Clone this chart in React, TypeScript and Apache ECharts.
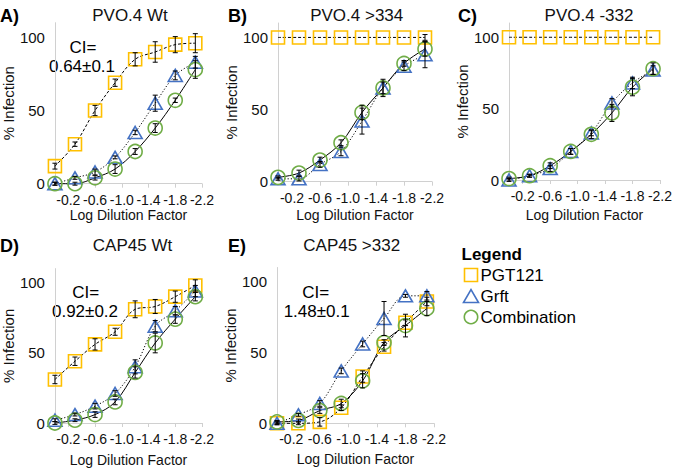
import React, { useEffect, useRef } from "react";
import * as echarts from "echarts";

// ---- data ----
const logDilution = [0, -0.3, -0.6, -0.9, -1.2, -1.5, -1.8, -2.1];
const xTickValues = [-0.2, -0.6, -1.0, -1.4, -1.8, -2.2];
const yTickValues = [0, 50, 100];

const panelTitles = ["PVO.4 Wt", "PVO.4 >334", "PVO.4 -332", "CAP45 Wt", "CAP45 >332"];
const panelLetters = ["A)", "B)", "C)", "D)", "E)"];
const seriesNames = ["PGT121", "Grft", "Combination"];

// Panel A: PVO.4 Wt
const aPGT121 = [12, 27, 50, 69, 85, 90, 95, 96];
const aPGT121Err = [2, 1.5, 3.5, 2.5, 4.5, 7, 5.5, 6.5];
const aGrft = [0, 4, 8, 18, 35, 55, 74, 83];
const aGrftErr = [1, 1, 2, 1, 1.5, 5.5, 3, 4];
const aComb = [0, 0, 4, 10, 22, 38, 57, 78];
const aCombErr = [1, 1, 1.5, 3, 2, 3, 1.5, 6];

// Panel B: PVO.4 >334
const bPGT121 = [100, 100, 100, 100, 100, 100, 100, 100];
const bPGT121Err = [0, 0, 0, 0, 0, 0, 0, 2];
const bGrft = [2, 2, 12, 21, 42, 65, 80, 88];
const bGrftErr = [1, 1.5, 2, 3, 9, 6, 3, 9];
const bComb = [3, 6, 15, 27, 48, 65, 82, 92];
const bCombErr = [1, 2, 2, 2, 5, 4, 2, 5];

// Panel C: PVO.4 -332
const cPGT121 = [100, 100, 100, 100, 100, 100, 100, 100];
const cPGT121Err = [0, 0, 0, 0, 0, 0, 0, 0];
const cGrft = [0, 3, 8, 20, 33, 54, 68, 77];
const cGrftErr = [1, 1, 2, 2, 2, 3, 4, 3];
const cComb = [1, 3, 10, 20, 32, 47, 65, 78];
const cCombErr = [1, 1, 2, 2, 3, 6, 6, 4];

// Panel D: CAP45 Wt
const dPGT121 = [31, 44, 56, 65, 81, 83, 90, 98];
const dPGT121Err = [3, 3, 4, 2.5, 6, 5, 4, 4];
const dGrft = [2, 6, 12, 21, 40, 69, 80, 94];
const dGrftErr = [1, 1, 2, 2, 5, 4, 3, 4];
const dComb = [0, 2, 6, 15, 36, 57, 74, 90];
const dCombErr = [1, 1, 2, 2, 4, 7, 3, 3];

// Panel E: CAP45 >332
const ePGT121 = [0, 0, 1, 11, 33, 54, 71, 86];
const ePGT121Err = [1, 1, 3, 2, 4, 3, 2, 3];
const eGrft = [0, 6, 14, 37, 56, 74, 90, 90];
const eGrftErr = [1, 1, 2, 2, 2, 12, 1, 3];
const eComb = [1, 2, 9, 14, 30, 57, 69, 81];
const eCombErr = [1, 1, 2, 3, 5, 2, 8, 5];

const ciLabels: (string | null)[] = ["0.64±0.1", null, null, "0.92±0.2", "1.48±0.1"];

const panelValues = [
  [aPGT121, aGrft, aComb],
  [bPGT121, bGrft, bComb],
  [cPGT121, cGrft, cComb],
  [dPGT121, dGrft, dComb],
  [ePGT121, eGrft, eComb],
];
const panelErrors = [
  [aPGT121Err, aGrftErr, aCombErr],
  [bPGT121Err, bGrftErr, bCombErr],
  [cPGT121Err, cGrftErr, cCombErr],
  [dPGT121Err, dGrftErr, dCombErr],
  [ePGT121Err, eGrftErr, eCombErr],
];

// ---- layout / style ----
const FONT = "'Liberation Sans', Arial, Helvetica, sans-serif";
const TXT = "#111";
const AXIS_GRAY = "#d0d0d0";
const colors = ["#FFC000", "#4472C4", "#70AD47"];
const symbols = ["rect", "triangle", "circle"];
const symbolSizes: any[] = [13, [14, 12], 14];
const lineTypes: any[] = [[3, 2], [1.2, 2], "solid"];

const grids = [
  { left: 42, top: 22.7, width: 160, height: 161 },
  { left: 278, top: 23, width: 154, height: 158.7 },
  { left: 509, top: 23, width: 154, height: 157 },
  { left: 49, top: 268.6, width: 153, height: 154.7 },
  { left: 277, top: 267.5, width: 157, height: 155.8 },
];
const yNameGaps = [27, 33, 34, 35, 33];
const xNameGaps = [24, 26, 28, 30, 29];
const titlePos = [
  [130, 15.8], [356.7, 15.8], [589, 15.8], [132.5, 245.8], [351.7, 245.8],
];
const letterPos = [
  [0, 15.8], [228, 15.8], [458, 15.8], [0, 245.8], [228, 245.8],
];
const ciPos = [
  [83, 47.5, 82, 66.7], null, null, [85.8, 292.5, 85, 311.7], [315.8, 292.5, 316.7, 311.7],
];

function errorRender(params: any, api: any) {
  const x = api.value(0);
  const lo = api.value(1);
  const hi = api.value(2);
  if (hi - lo <= 0) return { type: "group", children: [] };
  const p1 = api.coord([x, hi]);
  const p2 = api.coord([x, lo]);
  const w = 2.5;
  const st = { stroke: "#000", lineWidth: 1 };
  return {
    type: "group",
    children: [
      { type: "line", shape: { x1: p1[0], y1: p1[1], x2: p2[0], y2: p2[1] }, style: st },
      { type: "line", shape: { x1: p1[0] - w, y1: p1[1], x2: p1[0] + w, y2: p1[1] }, style: st },
      { type: "line", shape: { x1: p2[0] - w, y1: p2[1], x2: p2[0] + w, y2: p2[1] }, style: st },
    ],
  };
}

function buildOption() {
  const grid: any[] = [];
  const xAxis: any[] = [];
  const yAxis: any[] = [];
  const series: any[] = [];
  const graphic: any[] = [];

  grids.forEach((g, i) => {
    grid.push({ ...g, containLabel: false });
    xAxis.push({
      type: "value",
      gridIndex: i,
      min: -2.2,
      max: 0,
      inverse: true,
      name: "Log Dilution Factor",
      nameLocation: "middle",
      nameGap: xNameGaps[i],
      nameTextStyle: { fontFamily: FONT, fontSize: 14, color: TXT },
      axisLine: { show: true, onZero: false, lineStyle: { color: AXIS_GRAY, width: 1 } },
      axisTick: { show: true, length: 4, customValues: xTickValues, lineStyle: { color: AXIS_GRAY } },
      axisLabel: {
        customValues: xTickValues,
        formatter: (v: number) => v.toFixed(1),
        fontFamily: FONT,
        fontSize: 14,
        color: TXT,
        margin: 9,
      },
      splitLine: { show: false },
    });
    yAxis.push({
      type: "value",
      gridIndex: i,
      min: 0,
      max: 110,
      name: "% Infection",
      nameLocation: "middle",
      nameGap: yNameGaps[i],
      nameRotate: 90,
      nameTextStyle: { fontFamily: FONT, fontSize: 15, color: TXT },
      axisLine: { show: true, lineStyle: { color: AXIS_GRAY, width: 1 } },
      axisTick: { show: false },
      axisLabel: {
        customValues: yTickValues,
        fontFamily: FONT,
        fontSize: 15,
        color: TXT,
        margin: 10,
      },
      splitLine: { show: false },
    });

    panelValues[i].forEach((vals, s) => {
      series.push({
        type: "line",
        name: seriesNames[s],
        xAxisIndex: i,
        yAxisIndex: i,
        data: logDilution.map((x, j) => [x, vals[j]]),
        smooth: 0.35,
        symbol: symbols[s],
        symbolSize: symbolSizes[s],
        showSymbol: true,
        clip: false,
        z: 3,
        itemStyle: { color: "rgba(0,0,0,0)", borderColor: colors[s], borderWidth: 1.6 },
        lineStyle: { color: "#000", width: 1, type: lineTypes[s] },
        emphasis: { disabled: true },
      });
      const errs = panelErrors[i][s];
      series.push({
        type: "custom",
        name: seriesNames[s] + " error",
        xAxisIndex: i,
        yAxisIndex: i,
        z: 4,
        renderItem: errorRender,
        encode: { x: 0, y: [1, 2] },
        data: logDilution.map((x, j) => [x, vals[j] - errs[j], vals[j] + errs[j]]),
      });
    });

    graphic.push({
      type: "text",
      x: titlePos[i][0],
      y: titlePos[i][1],
      style: {
        text: panelTitles[i],
        font: `17px ${FONT}`,
        fill: TXT,
        textAlign: "center",
        textVerticalAlign: "middle",
      },
    });
    graphic.push({
      type: "text",
      x: letterPos[i][0],
      y: letterPos[i][1],
      style: {
        text: panelLetters[i],
        font: `bold 18px ${FONT}`,
        fill: "#000",
        textAlign: "left",
        textVerticalAlign: "middle",
      },
    });
    const ci = ciLabels[i];
    const cp = ciPos[i];
    if (ci && cp) {
      graphic.push({
        type: "text",
        x: cp[0],
        y: cp[1],
        style: { text: "CI=", font: `17px ${FONT}`, fill: "#000", textAlign: "center", textVerticalAlign: "middle" },
      });
      graphic.push({
        type: "text",
        x: cp[2],
        y: cp[3],
        style: { text: ci, font: `17px ${FONT}`, fill: "#000", textAlign: "center", textVerticalAlign: "middle" },
      });
    }
  });

  // legend block
  graphic.push({
    type: "text",
    x: 461.5,
    y: 254,
    style: { text: "Legend", font: `bold 17px ${FONT}`, fill: "#000", textAlign: "left", textVerticalAlign: "middle" },
  });
  const legY = [275, 296, 317];
  graphic.push({
    type: "rect",
    shape: { x: 464.5, y: legY[0] - 6.5, width: 13, height: 13 },
    style: { fill: "none", stroke: colors[0], lineWidth: 1.6 },
  });
  graphic.push({
    type: "polygon",
    shape: { points: [[463.5, legY[1] + 6.5], [478.5, legY[1] + 6.5], [471, legY[1] - 6.5]] },
    style: { fill: "none", stroke: colors[1], lineWidth: 1.6 },
  });
  graphic.push({
    type: "circle",
    shape: { cx: 471, cy: legY[2], r: 6.7 },
    style: { fill: "none", stroke: colors[2], lineWidth: 1.6 },
  });
  seriesNames.forEach((n, k) => {
    graphic.push({
      type: "text",
      x: 480.5,
      y: legY[k],
      style: { text: n, font: `17px ${FONT}`, fill: "#000", textAlign: "left", textVerticalAlign: "middle" },
    });
  });

  return {
    animation: false,
    backgroundColor: "#fff",
    grid,
    xAxis,
    yAxis,
    series,
    graphic,
  };
}

export default function App() {
  const ref = useRef<HTMLDivElement>(null);
  useEffect(() => {
    if (!ref.current) return;
    const chart = echarts.init(ref.current, null, { renderer: "svg" });
    chart.setOption(buildOption() as any);
    return () => chart.dispose();
  }, []);
  return (
    <div
      ref={ref}
      style={{ position: "fixed", left: 0, top: 0, width: 675, height: 468, background: "#fff" }}
    />
  );
}
